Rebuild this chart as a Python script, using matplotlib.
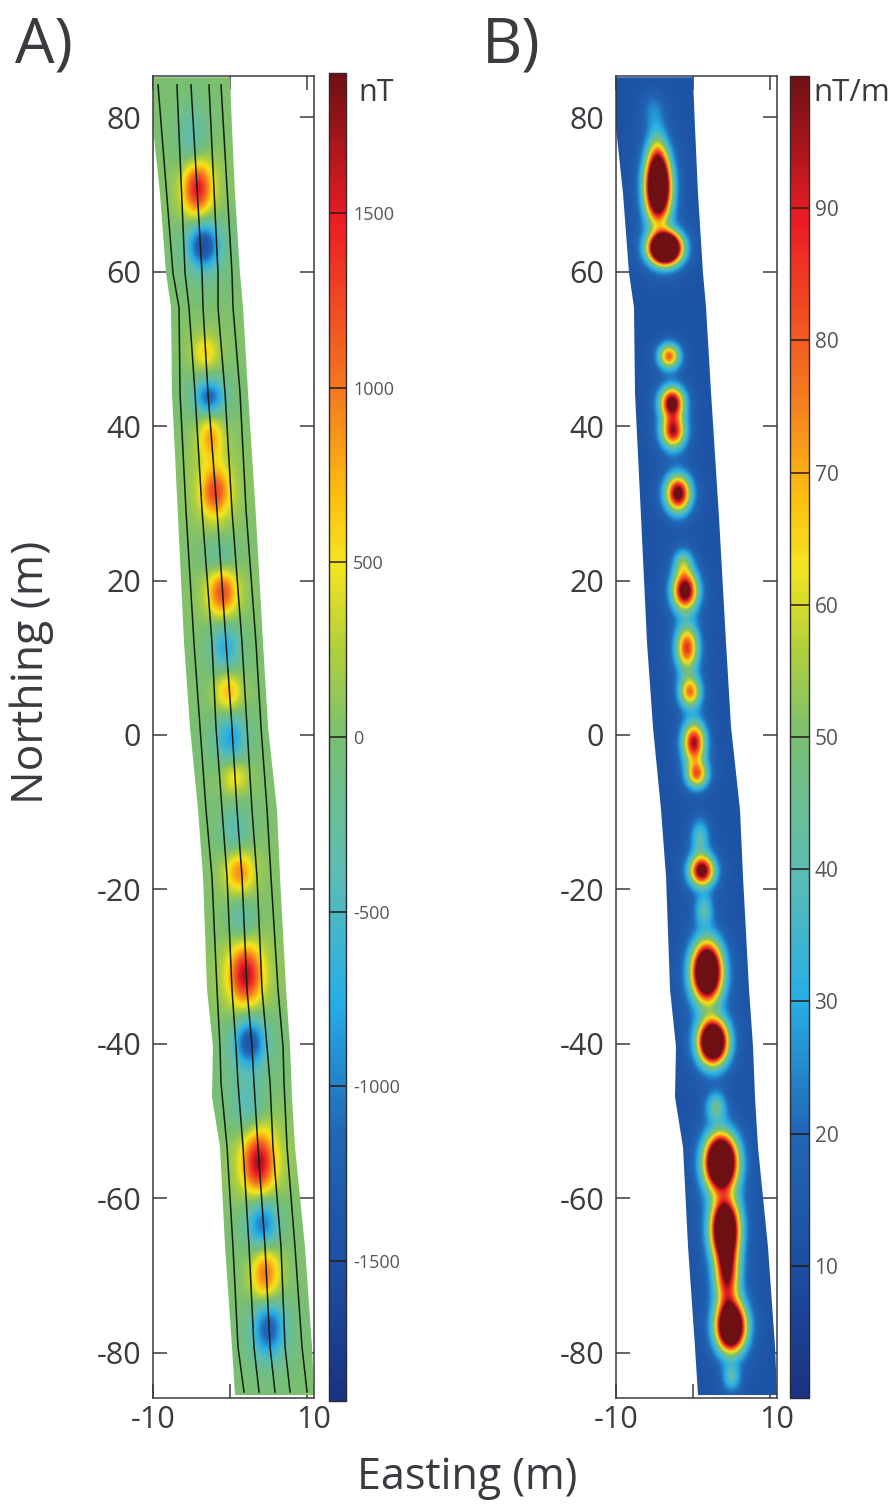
import numpy as np
import matplotlib
matplotlib.use('Agg')
import matplotlib.pyplot as plt
from matplotlib.colors import LinearSegmentedColormap
from matplotlib.patches import Polygon

W, H = 896, 1504
plt.rcParams['font.family'] = ['Open Sans', 'DejaVu Sans']
plt.rcParams['axes.unicode_minus'] = False
INK = '#3a3a40'

# survey strip outline, metres
edge_north = [85.2, 78.7, 70.1, 59.8, 55.4, 44.3, 28.2, 11.9, 1.0, -9.7, -18.4, -33.0, -40.4, -46.9, -53.4, -66.3, -79.3, -85.5]
edge_left = [-10, -10, -9.09, -8.31, -7.67, -7.54, -6.76, -5.98, -5.21, -4.17, -3.52, -3.0, -2.23, -2.36, -1.32, -0.67, 0.23, 0.62]
edge_right = [-0.03, 0.23, 0.62, 1.27, 1.66, 2.31, 3.34, 4.25, 4.9, 6.06, 6.45, 7.23, 7.75, 8.0, 8.39, 9.68, 10.6, 10.85]

# the five profile lines of panel A
line_north = [84.2, 59.8, 55.4, 44.3, 29.1, 11.9, 1.0, -9.7, -18.4, -33.0, -40.4, -45.1, -53.4, -66.3, -79.3, -85.1]
line_1 = [-9.35, -7.41, -6.63, -6.5, -5.73, -4.69, -3.91, -3.13, -2.36, -1.71, -1.32, -1.19, -0.41, 0.36, 1.01, 1.79]
line_2 = [-6.9, -5.85, -5.34, -4.56, -3.65, -2.36, -1.84, -1.06, -0.41, 0.23, 0.75, 1.01, 1.66, 2.44, 3.08, 3.73]
line_3 = [-5.08, -3.65, -3.52, -2.88, -1.71, -0.54, 0.23, 0.88, 1.53, 2.18, 2.82, 3.08, 3.6, 4.51, 5.16, 5.8]
line_4 = [-2.75, -1.58, -1.58, -0.67, 0.23, 1.53, 2.18, 2.82, 3.47, 4.12, 4.77, 5.16, 5.54, 6.58, 7.1, 7.75]
line_5 = [-1.19, 0.23, 0.36, 1.27, 2.05, 3.34, 3.99, 4.77, 5.28, 6.19, 6.84, 6.97, 7.36, 8.39, 9.3, 9.95]

# panel A anomalies: position, peak in nT, spread along / across track
a_north = [76.7, 70.9, 63.5, 49.5, 43.8, 38.6, 31.5, 23.0, 18.5, 11.3, 5.6, -0.4, -5.4, -12.6, -17.7, -24.0, -31.1, -39.8, -48.3, -55.4, -63.5, -69.9, -76.8]
a_east = [-4.95, -4.3, -3.5, -3.26, -2.75, -2.6, -2.0, -1.3, -1.06, -0.67, -0.3, 0.0, 0.5, 0.6, 1.14, 1.5, 1.9, 2.44, 2.2, 3.6, 4.1, 4.5, 4.9]
a_peak = [-420, 1350, -1300, 480, -1050, 640, 1000, -380, 1050, -680, 680, -750, 500, -400, 800, -400, 1400, -1200, -430, 1450, -1050, 950, -1150]
a_sn = [3.0, 2.4, 2.0, 1.5, 1.5, 2.0, 2.1, 1.8, 2.1, 2.3, 1.9, 2.2, 1.6, 2.4, 1.9, 2.2, 2.6, 2.1, 2.6, 2.7, 2.3, 2.7, 2.5]
a_se = [1.4, 1.25, 1.35, 1.1, 1.25, 1.05, 1.25, 1.5, 1.25, 1.3, 1.15, 1.35, 1.15, 1.35, 1.25, 1.35, 1.4, 1.35, 1.45, 1.4, 1.4, 1.25, 1.4]

# panel B anomalies: position, peak above background in nT/m, spread along / across track
b_north = [81.0, 74.9, 70.9, 63.1, 49.1, 43.1, 39.4, 31.3, 22.3, 18.7, 11.3, 5.6, -1.0, -5.1, -13.3, -17.6, -22.7, -30.7, -39.8, -48.2, -55.4, -63.9, -69.7, -76.7, -83.3]
b_east = [-5.2, -4.7, -4.56, -3.65, -3.13, -2.75, -2.6, -1.97, -1.32, -1.06, -0.8, -0.41, 0.1, 0.5, 0.88, 1.14, 1.4, 1.79, 2.56, 2.95, 3.6, 4.12, 4.38, 4.9, 5.0]
b_peak = [10, 30, 150, 200, 64, 90, 78, 92, 30, 95, 70, 60, 80, 60, 25, 92, 25, 150, 150, 28, 170, 140, 80, 150, 24]
b_sn = [1.6, 2.6, 2.8, 1.3, 1.1, 1.35, 1.5, 1.6, 1.2, 1.7, 2.0, 1.4, 1.8, 1.2, 1.7, 1.35, 1.4, 2.5, 1.9, 1.3, 2.3, 2.5, 2.9, 2.1, 1.2]
b_se = [1.0, 0.9, 1.1, 1.3, 0.95, 1.05, 1.05, 1.1, 0.85, 1.1, 1.0, 0.95, 1.0, 0.95, 0.85, 1.1, 0.8, 1.3, 1.25, 0.9, 1.35, 1.2, 1.05, 1.25, 0.8]

y_ticks = [80, 60, 40, 20, 0, -20, -40, -60, -80]
a_cb_ticks = [-1500, -1000, -500, 0, 500, 1000, 1500]
b_cb_ticks = [10, 20, 30, 40, 50, 60, 70, 80, 90]

cmap = LinearSegmentedColormap.from_list('survey', [
    (0.0, '#1b3282'), (0.1, '#1d4fa2'), (0.2, '#2166b6'), (0.3, '#27aee6'),
    (0.4, '#5dbdb2'), (0.5, '#79bf72'), (0.57, '#b5d03a'), (0.63, '#f4e51e'),
    (0.68, '#fdc010'), (0.76, '#f47a20'), (0.89, '#ed1c24'), (1.0, '#6e1014')])


def px_box(x0, y0, x1, y1):
    return [x0 / W, 1 - y1 / H, (x1 - x0) / W, (y1 - y0) / H]


def field(xx, yy, north, east, peak, sn, se, base, halo):
    z = np.full(xx.shape, float(base))
    for n, e, p, s1, s2 in zip(north, east, peak, sn, se):
        r2 = ((yy - n) / s1) ** 2 + ((xx - e) / s2) ** 2
        z += p * np.exp(-r2 / 2)
        r2 = ((yy - n) / (s1 * 1.9)) ** 2 + ((xx - e) / (s2 * 1.9)) ** 2
        z += halo * p * np.exp(-r2 / 2)
    return z


def panel(x0, z, vmin, vmax, tracks=False):
    ax = fig.add_axes(px_box(x0, 76, x0 + 161, 1398))
    im = ax.imshow(z, extent=[-10, 10.85, -85.88, 85.36], origin='lower', cmap=cmap,
                   vmin=vmin, vmax=vmax, interpolation='bilinear', aspect='auto', zorder=1)
    outline = list(zip(edge_left, edge_north)) + list(zip(edge_right[::-1], edge_north[::-1]))
    im.set_clip_path(Polygon(outline, closed=True, transform=ax.transData))
    if tracks:
        for ln in [line_1, line_2, line_3, line_4, line_5]:
            ax.plot(ln, line_north, color='#10200f', lw=1.1, zorder=2)
    ax.set_xlim(-10, 10.85)
    ax.set_ylim(-85.88, 85.36)
    ax.set_axisbelow(True)
    ax.set_yticks(y_ticks)
    ax.set_xticks([-10, 0, 10])
    ax.set_xticklabels([])
    ax.tick_params(axis='both', direction='in', length=10, width=1.1, color=INK, top=True,
                   right=True, labelsize=22, labelcolor=INK, pad=8.5)
    for s in ax.spines.values():
        s.set_color(INK)
        s.set_linewidth(1.1)
    ax.text(0, -0.005, '-10', transform=ax.transAxes, ha='center', va='top', fontsize=22, color=INK)
    ax.text(1, -0.005, '10', transform=ax.transAxes, ha='center', va='top', fontsize=22, color=INK)
    return im


def bar(im, box, ticks, length, size, pad):
    cax = fig.add_axes(px_box(*box))
    cb = fig.colorbar(im, cax=cax, ticks=ticks)
    cb.ax.tick_params(direction='in', length=length, width=1.1, color='#2a1a10', labelsize=size,
                      labelcolor='#55555a', pad=pad)
    cb.outline.set_edgecolor('#2a2a30')
    cb.outline.set_linewidth(1.0)
    return cb


fig = plt.figure(figsize=(W / 100, H / 100), dpi=100)

ee, nn = np.meshgrid(np.linspace(-10, 10.85, 260), np.linspace(-85.88, 85.36, 1300))
za = field(ee, nn, a_north, a_east, a_peak, a_sn, a_se, 30, 0.22)
zb = field(ee, nn, b_north, b_east, b_peak, b_sn, b_se, 12, 0.05)

im_a = panel(153, za, -1900, 1900, tracks=True)
im_b = panel(616, zb, 0, 100)
bar(im_a, (329, 73, 346, 1401), a_cb_ticks, 12.5, 13, 5)
bar(im_b, (790, 76, 809, 1398), b_cb_ticks, 14, 15, 4)

fig.text(15 / W, 1 - 63 / H, 'A)', fontsize=45, color=INK, ha='left', va='baseline')
fig.text(482 / W, 1 - 63 / H, 'B)', fontsize=45, color=INK, ha='left', va='baseline')
fig.text(358 / W, 1 - 101 / H, 'nT', fontsize=22, color=INK, ha='left', va='baseline')
fig.text(813 / W, 1 - 101 / H, 'nT/m', fontsize=22.5, color=INK, ha='left', va='baseline')
fig.text(32 / W, 1 - 672 / H, 'Northing (m)', fontsize=32, color=INK, rotation=90, ha='center', va='center')
fig.text(467 / W, 1 - 1478 / H, 'Easting (m)', fontsize=31, color=INK, ha='center', va='center')

fig.savefig('out.png', dpi=100)
